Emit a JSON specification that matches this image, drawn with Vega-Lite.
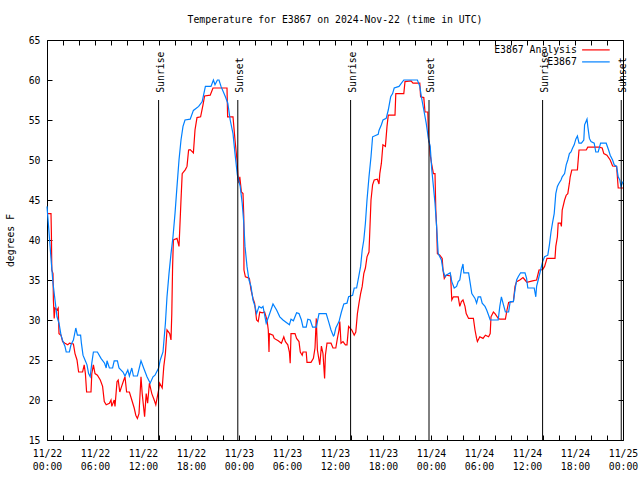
{
 "$schema": "https://vega.github.io/schema/vega-lite/v6.json",
 "width": 576,
 "height": 400,
 "autosize": "none",
 "padding": {"left": 47, "top": 40, "right": 17, "bottom": 40},
 "background": "white",
 "config": {
  "font": "DejaVu Sans Mono",
  "view": {"stroke": "black", "strokeWidth": 1},
  "axis": {"domain": false, "grid": false, "tickColor": "black", "tickSize": -5, "tickWidth": 1, "labelFont": "DejaVu Sans Mono", "labelFontSize": 9.8, "labelColor": "black", "titleFont": "DejaVu Sans Mono", "titleFontSize": 9.8, "titleFontWeight": "normal", "titleColor": "black"},
  "legend": {"orient": "none", "legendX": 544, "legendY": 5, "padding": 0, "title": null, "symbolType": "M-4.6,0L4.6,0", "symbolSize": 36, "symbolStrokeWidth": 1.2, "symbolFillColor": "transparent", "labelAlign": "right", "labelOffset": -24, "labelFont": "DejaVu Sans Mono", "labelFontSize": 9.8, "labelColor": "black", "rowPadding": 1}
 },
 "title": {"text": "Temperature for E3867 on 2024-Nov-22 (time in UTC)", "font": "DejaVu Sans Mono", "fontSize": 9.8, "fontWeight": "normal", "color": "black", "anchor": "middle", "offset": 10},
 "datasets": {
  "analysis": [
   {"h":0,"t":43.3},{"h":0.5,"t":43.3},{"h":0.55,"t":40.8},{"h":0.6,"t":36.25},{"h":0.75,"t":35.8},{"h":0.8,"t":32.5},{"h":0.9,"t":30.2},{"h":1.0,"t":31.5},{"h":1.25,"t":31.25},{"h":1.4,"t":31.5},{"h":1.5,"t":28.3},{"h":1.75,"t":28.1},{"h":1.95,"t":27.3},{"h":2.25,"t":27.1},{"h":2.6,"t":26.9},{"h":2.8,"t":27.1},{"h":3.3,"t":27.0},{"h":3.5,"t":25.8},{"h":3.75,"t":25.0},{"h":3.95,"t":23.5},{"h":4.45,"t":23.5},{"h":4.65,"t":24.4},{"h":4.8,"t":23.3},{"h":4.95,"t":21.0},{"h":5.5,"t":21.0},{"h":5.6,"t":23.3},{"h":5.8,"t":24.4},{"h":6.0,"t":23.3},{"h":6.3,"t":23.1},{"h":6.66,"t":22.5},{"h":6.95,"t":21.7},{"h":7.16,"t":19.8},{"h":7.4,"t":19.4},{"h":7.8,"t":19.6},{"h":8.0,"t":20.0},{"h":8.1,"t":19.2},{"h":8.4,"t":20.0},{"h":8.5,"t":19.2},{"h":8.75,"t":22.3},{"h":8.9,"t":22.5},{"h":9.1,"t":21.0},{"h":9.33,"t":21.7},{"h":9.6,"t":22.5},{"h":9.75,"t":22.9},{"h":9.95,"t":21.0},{"h":10.3,"t":21.0},{"h":10.6,"t":20.0},{"h":10.9,"t":19.0},{"h":11.1,"t":18.1},{"h":11.3,"t":17.7},{"h":11.5,"t":18.3},{"h":11.75,"t":22.9},{"h":11.9,"t":20.8},{"h":12.2,"t":17.9},{"h":12.4,"t":20.8},{"h":12.58,"t":19.6},{"h":12.8,"t":22.1},{"h":13.1,"t":20.8},{"h":13.4,"t":20.0},{"h":13.6,"t":19.4},{"h":13.95,"t":21.25},{"h":14.08,"t":22.1},{"h":14.4,"t":21.5},{"h":14.6,"t":24.2},{"h":14.8,"t":25.8},{"h":15.0,"t":28.75},{"h":15.33,"t":28.3},{"h":15.5,"t":27.5},{"h":15.6,"t":30.8},{"h":15.7,"t":36.7},{"h":15.8,"t":40.0},{"h":16.25,"t":40.2},{"h":16.5,"t":39.2},{"h":16.58,"t":41.0},{"h":16.75,"t":45.0},{"h":16.9,"t":48.3},{"h":17.3,"t":48.8},{"h":17.5,"t":49.2},{"h":17.7,"t":51.25},{"h":17.9,"t":51.3},{"h":18.3,"t":50.9},{"h":18.5,"t":53.75},{"h":18.75,"t":55.3},{"h":19.2,"t":55.4},{"h":19.5,"t":56.9},{"h":19.7,"t":58.0},{"h":20.4,"t":58.1},{"h":20.75,"t":59.0},{"h":22.5,"t":59.0},{"h":22.58,"t":55.4},{"h":23.25,"t":55.4},{"h":23.5,"t":52.5},{"h":23.75,"t":50.0},{"h":23.9,"t":47.5},{"h":24.0,"t":47.1},{"h":24.1,"t":47.9},{"h":24.3,"t":46.0},{"h":24.5,"t":45.8},{"h":24.6,"t":42.9},{"h":24.62,"t":36.25},{"h":24.8,"t":35.4},{"h":25.1,"t":35.3},{"h":25.3,"t":35.2},{"h":25.5,"t":33.75},{"h":25.75,"t":32.7},{"h":25.95,"t":32.1},{"h":26.2,"t":30.0},{"h":26.4,"t":29.8},{"h":26.6,"t":31.0},{"h":26.9,"t":30.9},{"h":27.2,"t":31.0},{"h":27.5,"t":30.0},{"h":27.66,"t":28.75},{"h":27.75,"t":26.0},{"h":27.8,"t":28.3},{"h":28.25,"t":28.1},{"h":28.4,"t":27.7},{"h":28.9,"t":27.4},{"h":29.3,"t":27.1},{"h":29.6,"t":27.9},{"h":29.8,"t":27.3},{"h":30.1,"t":26.9},{"h":30.3,"t":26.0},{"h":30.4,"t":24.6},{"h":30.5,"t":28.3},{"h":31.0,"t":28.3},{"h":31.2,"t":27.7},{"h":31.5,"t":27.3},{"h":31.66,"t":26.0},{"h":31.9,"t":25.6},{"h":32.0,"t":26.0},{"h":32.4,"t":26.0},{"h":32.5,"t":24.7},{"h":33.0,"t":24.7},{"h":33.3,"t":25.2},{"h":33.5,"t":26.5},{"h":33.66,"t":30.2},{"h":33.8,"t":26.25},{"h":34.1,"t":24.4},{"h":34.3,"t":26.75},{"h":34.5,"t":25.8},{"h":34.7,"t":22.7},{"h":34.8,"t":25.6},{"h":35.0,"t":27.1},{"h":35.5,"t":27.1},{"h":35.75,"t":26.5},{"h":36.1,"t":26.5},{"h":36.3,"t":27.7},{"h":36.5,"t":28.75},{"h":36.6,"t":29.8},{"h":36.75,"t":27.1},{"h":37.0,"t":27.3},{"h":37.3,"t":26.9},{"h":37.5,"t":26.9},{"h":37.7,"t":29.2},{"h":38.1,"t":28.75},{"h":38.4,"t":28.1},{"h":38.6,"t":28.5},{"h":38.8,"t":30.8},{"h":39.0,"t":32.1},{"h":39.2,"t":33.3},{"h":39.4,"t":34.2},{"h":39.6,"t":35.8},{"h":39.8,"t":36.5},{"h":40.0,"t":37.9},{"h":40.25,"t":38.5},{"h":40.5,"t":45.0},{"h":40.7,"t":46.9},{"h":40.9,"t":47.5},{"h":41.3,"t":47.6},{"h":41.5,"t":47.0},{"h":41.6,"t":48.3},{"h":41.8,"t":49.6},{"h":41.99,"t":51.9},{"h":42.3,"t":51.7},{"h":42.5,"t":54.2},{"h":42.66,"t":55.6},{"h":43.5,"t":55.6},{"h":43.6,"t":58.3},{"h":44.6,"t":58.3},{"h":44.75,"t":59.8},{"h":45.5,"t":59.9},{"h":45.75,"t":59.6},{"h":46.6,"t":59.6},{"h":46.7,"t":57.9},{"h":47.1,"t":57.8},{"h":47.25,"t":56.0},{"h":47.6,"t":56.0},{"h":47.7,"t":52.5},{"h":47.8,"t":52.1},{"h":47.9,"t":50.6},{"h":48.1,"t":49.4},{"h":48.3,"t":48.3},{"h":48.5,"t":48.3},{"h":48.6,"t":43.75},{"h":48.7,"t":41.7},{"h":48.8,"t":38.3},{"h":49.1,"t":38.1},{"h":49.4,"t":37.7},{"h":49.5,"t":36.25},{"h":49.66,"t":35.2},{"h":49.9,"t":35.6},{"h":50.45,"t":35.5},{"h":50.6,"t":32.5},{"h":50.8,"t":32.9},{"h":51.4,"t":32.9},{"h":51.6,"t":31.7},{"h":51.8,"t":32.3},{"h":52.0,"t":32.5},{"h":52.25,"t":31.7},{"h":52.4,"t":30.8},{"h":52.7,"t":30.2},{"h":53.3,"t":30.2},{"h":53.5,"t":28.75},{"h":53.7,"t":27.7},{"h":53.8,"t":27.3},{"h":54.1,"t":27.9},{"h":54.5,"t":27.7},{"h":54.8,"t":28.1},{"h":55.2,"t":27.9},{"h":55.4,"t":28.3},{"h":55.5,"t":30.4},{"h":55.8,"t":31.0},{"h":56.0,"t":30.8},{"h":56.4,"t":30.2},{"h":56.6,"t":30.1},{"h":57.3,"t":30.1},{"h":57.5,"t":31.25},{"h":57.7,"t":32.2},{"h":58.3,"t":32.3},{"h":58.5,"t":34.2},{"h":58.7,"t":34.8},{"h":59.1,"t":35.0},{"h":59.5,"t":35.3},{"h":59.75,"t":35.0},{"h":59.99,"t":34.7},{"h":60.7,"t":34.9},{"h":61.2,"t":35.0},{"h":61.5,"t":36.25},{"h":61.95,"t":36.3},{"h":62.2,"t":36.7},{"h":62.5,"t":37.7},{"h":63.5,"t":37.7},{"h":63.6,"t":39.2},{"h":63.8,"t":40.4},{"h":63.9,"t":42.1},{"h":64.2,"t":42.1},{"h":64.3,"t":41.7},{"h":64.4,"t":43.75},{"h":64.7,"t":45.0},{"h":64.9,"t":45.6},{"h":65.1,"t":45.8},{"h":65.3,"t":47.1},{"h":65.4,"t":47.9},{"h":65.6,"t":48.75},{"h":66.3,"t":48.75},{"h":66.5,"t":51.25},{"h":67.4,"t":51.25},{"h":67.6,"t":51.6},{"h":69.0,"t":51.6},{"h":69.4,"t":51.5},{"h":69.6,"t":50.8},{"h":69.99,"t":50.6},{"h":70.4,"t":50.0},{"h":70.7,"t":49.25},{"h":71.2,"t":49.2},{"h":71.4,"t":46.5},{"h":72.0,"t":46.5}
  ],
  "station": [
   {"h":0,"t":44.2},{"h":0.25,"t":41.0},{"h":0.5,"t":37.7},{"h":0.75,"t":34.6},{"h":1.0,"t":32.5},{"h":1.25,"t":30.4},{"h":1.5,"t":29.6},{"h":1.75,"t":28.1},{"h":2.0,"t":27.3},{"h":2.25,"t":26.7},{"h":2.4,"t":26.0},{"h":2.8,"t":26.0},{"h":3.0,"t":26.9},{"h":3.3,"t":27.5},{"h":3.6,"t":29.0},{"h":3.8,"t":28.1},{"h":4.2,"t":28.1},{"h":4.3,"t":27.1},{"h":4.5,"t":25.6},{"h":4.75,"t":25.0},{"h":5.0,"t":24.4},{"h":5.2,"t":23.3},{"h":5.4,"t":22.9},{"h":5.6,"t":24.6},{"h":5.8,"t":26.0},{"h":6.3,"t":26.0},{"h":6.75,"t":25.2},{"h":7.2,"t":24.6},{"h":7.4,"t":24.0},{"h":7.5,"t":24.9},{"h":7.8,"t":24.0},{"h":8.2,"t":24.0},{"h":8.4,"t":24.9},{"h":8.8,"t":24.9},{"h":9.0,"t":24.0},{"h":9.5,"t":23.5},{"h":9.75,"t":23.0},{"h":10.1,"t":23.75},{"h":10.3,"t":23.0},{"h":10.6,"t":24.0},{"h":10.8,"t":23.0},{"h":11.3,"t":23.0},{"h":11.75,"t":24.9},{"h":12.08,"t":24.0},{"h":12.5,"t":22.9},{"h":12.9,"t":22.1},{"h":13.25,"t":22.9},{"h":13.5,"t":23.1},{"h":13.95,"t":24.0},{"h":14.16,"t":25.0},{"h":14.5,"t":26.0},{"h":14.8,"t":29.6},{"h":15.0,"t":32.9},{"h":15.25,"t":35.8},{"h":15.5,"t":38.3},{"h":15.75,"t":40.4},{"h":16.0,"t":43.3},{"h":16.25,"t":46.7},{"h":16.5,"t":50.0},{"h":16.75,"t":52.5},{"h":17.0,"t":54.2},{"h":17.25,"t":55.0},{"h":17.9,"t":55.1},{"h":18.3,"t":56.2},{"h":18.96,"t":56.7},{"h":19.4,"t":57.3},{"h":19.8,"t":59.2},{"h":20.5,"t":59.2},{"h":20.8,"t":60.0},{"h":21.0,"t":59.4},{"h":21.3,"t":60.0},{"h":21.5,"t":60.0},{"h":21.75,"t":59.2},{"h":22.3,"t":57.9},{"h":22.6,"t":57.1},{"h":22.9,"t":55.0},{"h":23.25,"t":53.3},{"h":23.5,"t":50.8},{"h":23.8,"t":48.1},{"h":24.15,"t":46.7},{"h":24.4,"t":44.6},{"h":24.6,"t":42.1},{"h":24.75,"t":39.2},{"h":25.0,"t":36.7},{"h":25.25,"t":35.0},{"h":25.5,"t":34.2},{"h":25.75,"t":32.5},{"h":26.0,"t":31.7},{"h":26.2,"t":30.8},{"h":26.5,"t":31.7},{"h":26.8,"t":31.5},{"h":27.0,"t":31.7},{"h":27.4,"t":29.6},{"h":27.7,"t":30.4},{"h":28.25,"t":32.0},{"h":28.7,"t":31.25},{"h":29.1,"t":30.4},{"h":29.5,"t":30.0},{"h":30.3,"t":29.4},{"h":30.5,"t":30.1},{"h":30.8,"t":29.9},{"h":31.2,"t":30.9},{"h":31.5,"t":30.8},{"h":31.8,"t":30.0},{"h":32.0,"t":29.1},{"h":32.4,"t":29.1},{"h":32.6,"t":30.1},{"h":32.9,"t":30.0},{"h":33.2,"t":29.1},{"h":33.67,"t":29.1},{"h":34.0,"t":30.8},{"h":34.9,"t":30.8},{"h":35.2,"t":29.8},{"h":35.5,"t":28.75},{"h":35.8,"t":28.0},{"h":35.9,"t":28.1},{"h":36.1,"t":29.0},{"h":36.5,"t":29.8},{"h":36.8,"t":31.0},{"h":37.1,"t":32.0},{"h":37.5,"t":32.1},{"h":37.7,"t":32.9},{"h":38.2,"t":33.1},{"h":38.4,"t":34.0},{"h":38.7,"t":34.0},{"h":39.0,"t":35.6},{"h":39.2,"t":36.7},{"h":39.4,"t":38.75},{"h":39.6,"t":40.0},{"h":39.8,"t":42.1},{"h":40.0,"t":45.0},{"h":40.25,"t":47.9},{"h":40.5,"t":50.4},{"h":40.7,"t":52.9},{"h":41.4,"t":53.2},{"h":41.5,"t":53.7},{"h":41.8,"t":54.4},{"h":42.0,"t":55.0},{"h":42.4,"t":55.2},{"h":42.66,"t":56.25},{"h":42.96,"t":57.9},{"h":43.2,"t":58.3},{"h":43.4,"t":59.0},{"h":44.0,"t":59.2},{"h":44.6,"t":60.0},{"h":46.3,"t":60.0},{"h":46.6,"t":59.2},{"h":46.8,"t":57.9},{"h":47.1,"t":56.25},{"h":47.4,"t":54.6},{"h":47.7,"t":52.5},{"h":47.9,"t":51.7},{"h":48.1,"t":48.75},{"h":48.3,"t":46.7},{"h":48.5,"t":44.6},{"h":48.7,"t":41.7},{"h":48.9,"t":38.3},{"h":49.1,"t":37.9},{"h":49.3,"t":37.5},{"h":49.5,"t":36.25},{"h":49.75,"t":35.4},{"h":49.9,"t":35.6},{"h":50.4,"t":35.9},{"h":50.6,"t":34.8},{"h":50.9,"t":34.0},{"h":51.2,"t":34.2},{"h":51.4,"t":34.8},{"h":51.6,"t":35.0},{"h":51.8,"t":36.25},{"h":52.0,"t":37.0},{"h":52.1,"t":35.9},{"h":52.7,"t":35.9},{"h":52.9,"t":34.6},{"h":53.1,"t":33.3},{"h":53.5,"t":32.7},{"h":53.7,"t":32.1},{"h":53.9,"t":32.9},{"h":54.2,"t":32.9},{"h":54.4,"t":32.1},{"h":54.75,"t":31.7},{"h":54.96,"t":31.25},{"h":55.2,"t":30.6},{"h":55.4,"t":30.0},{"h":56.4,"t":30.0},{"h":56.6,"t":31.7},{"h":56.8,"t":32.9},{"h":57.0,"t":32.1},{"h":57.3,"t":31.0},{"h":57.7,"t":31.0},{"h":57.9,"t":32.3},{"h":58.3,"t":32.3},{"h":58.5,"t":33.75},{"h":58.7,"t":35.0},{"h":58.9,"t":35.4},{"h":59.2,"t":35.9},{"h":59.75,"t":35.9},{"h":59.95,"t":35.2},{"h":60.1,"t":34.0},{"h":60.9,"t":34.0},{"h":61.1,"t":32.9},{"h":61.2,"t":34.2},{"h":61.4,"t":35.0},{"h":61.7,"t":36.25},{"h":61.95,"t":37.3},{"h":62.2,"t":37.9},{"h":62.6,"t":38.1},{"h":62.8,"t":39.4},{"h":63.0,"t":41.0},{"h":63.2,"t":42.2},{"h":63.4,"t":43.3},{"h":63.6,"t":45.8},{"h":63.8,"t":46.7},{"h":64.0,"t":47.1},{"h":64.25,"t":47.5},{"h":64.4,"t":47.9},{"h":64.7,"t":48.3},{"h":64.9,"t":49.4},{"h":65.1,"t":50.0},{"h":65.3,"t":50.8},{"h":65.5,"t":51.0},{"h":65.7,"t":51.5},{"h":65.9,"t":51.9},{"h":66.1,"t":52.6},{"h":66.3,"t":53.0},{"h":66.5,"t":52.1},{"h":66.8,"t":52.1},{"h":67.1,"t":52.5},{"h":67.2,"t":54.4},{"h":67.5,"t":55.1},{"h":67.6,"t":54.2},{"h":67.8,"t":52.7},{"h":68.0,"t":52.3},{"h":68.4,"t":52.1},{"h":68.6,"t":51.0},{"h":68.9,"t":51.0},{"h":69.2,"t":52.1},{"h":69.9,"t":52.1},{"h":70.2,"t":51.25},{"h":70.4,"t":50.6},{"h":70.7,"t":50.0},{"h":70.9,"t":49.4},{"h":71.2,"t":49.2},{"h":71.4,"t":47.9},{"h":71.6,"t":47.5},{"h":71.75,"t":46.7},{"h":72.0,"t":47.3}
  ],
  "sun": [
   {"h":13.95,"label":"Sunrise"},{"h":23.85,"label":"Sunset"},{"h":37.95,"label":"Sunrise"},{"h":47.75,"label":"Sunset"},{"h":61.95,"label":"Sunrise"},{"h":71.78,"label":"Sunset"}
  ]
 },
 "resolve": {"axis": {"x": "independent", "y": "independent"}},
 "layer": [
  {
   "data": {"name": "analysis"},
   "mark": {"type": "line", "strokeWidth": 1.2, "interpolate": "linear"},
   "encoding": {
    "x": {"field": "h", "type": "quantitative", "scale": {"domain": [0, 72], "nice": false, "zero": false},
     "axis": {"orient": "bottom", "title": null, "values": [0,2,4,6,8,10,12,14,16,18,20,22,24,26,28,30,32,34,36,38,40,42,44,46,48,50,52,54,56,58,60,62,64,66,68,70,72], "labelOverlap": false, "labelFlush": false, "labelBound": false, "labelPadding": 13, "labelLineHeight": 13, "labelBaseline": "top",
      "labelExpr": "datum.value % 6 == 0 ? ['11/' + (22 + floor(datum.value / 24)), (datum.value % 24 < 10 ? '0' : '') + (datum.value % 24) + ':00'] : ''"}},
    "y": {"field": "t", "type": "quantitative", "scale": {"domain": [15, 65], "nice": false, "zero": false},
     "axis": {"orient": "left", "title": "degrees F", "values": [15,20,25,30,35,40,45,50,55,60,65], "labelPadding": 12, "titlePadding": 13, "labelFlush": false}},
    "color": {"datum": "E3867 Analysis", "type": "nominal", "scale": {"domain": ["E3867 Analysis", "E3867"], "range": ["#ff0000", "#0080ff"]}}
   }
  },
  {
   "data": {"name": "station"},
   "mark": {"type": "line", "strokeWidth": 1.2, "interpolate": "linear"},
   "encoding": {
    "x": {"field": "h", "type": "quantitative", "axis": null},
    "y": {"field": "t", "type": "quantitative", "axis": null},
    "color": {"datum": "E3867", "type": "nominal"}
   }
  },
  {
   "data": {"name": "sun"},
   "mark": {"type": "rule", "color": "black", "strokeWidth": 1},
   "encoding": {
    "x": {"field": "h", "type": "quantitative",
     "axis": {"orient": "top", "title": null, "labels": false, "values": [0,2,4,6,8,10,12,14,16,18,20,22,24,26,28,30,32,34,36,38,40,42,44,46,48,50,52,54,56,58,60,62,64,66,68,70,72]}},
    "y": {"datum": 57.5, "type": "quantitative",
     "axis": {"orient": "right", "title": null, "labels": false, "values": [15,20,25,30,35,40,45,50,55,60,65]}},
    "y2": {"datum": 15}
   }
  },
  {
   "data": {"name": "sun"},
   "mark": {"type": "text", "angle": 270, "align": "left", "baseline": "alphabetic", "dy": 5, "fontSize": 9.8, "font": "DejaVu Sans Mono", "color": "black"},
   "encoding": {
    "x": {"field": "h", "type": "quantitative", "axis": null},
    "y": {"datum": 58.4, "type": "quantitative", "axis": null},
    "text": {"field": "label"}
   }
  }
 ]
}
